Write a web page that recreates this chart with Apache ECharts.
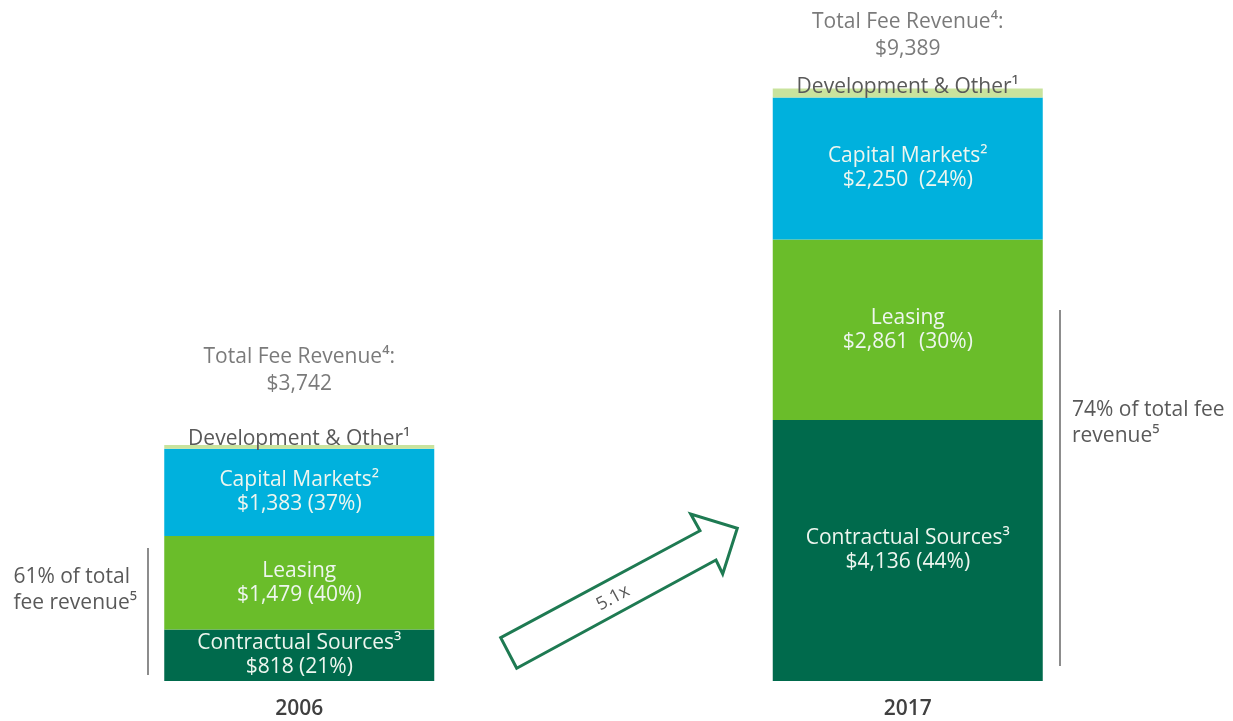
<!DOCTYPE html>
<html>
<head>
<meta charset="utf-8">
<script src="https://cdn.jsdelivr.net/npm/echarts@6/dist/echarts.min.js"></script>
<style>
  html, body { margin: 0; padding: 0; background: #fff; }
  #chart { width: 1233px; height: 721px; }
</style>
</head>
<body>
<div id="chart"></div>
<script>
// data ($ millions)
const years = ["2006", "2017"];
const contractual = [818, 4136];
const leasing = [1479, 2861];
const capitalMarkets = [1383, 2250];
const devOther = [62, 142];
const totals = [3742, 9389];
const contractualPct = [21, 44];
const leasingPct = [40, 30];
const capitalPct = [37, 24];

const FONT = "Open Sans";
const grey = "#595959";

const fmt = (v) => "$" + v.toLocaleString("en-US");

const chart = echarts.init(document.getElementById("chart"));

// gap between amount and percentage differs a bit between the two bars in the source slide
const insideLabel = (title, vals, pcts, seps) => ({
  show: true,
  position: "inside",
  color: "#eef6ef",
  fontFamily: FONT,
  fontSize: 21,
  lineHeight: 24,
  formatter: (p) => title + "\n" + fmt(vals[p.dataIndex]) + seps[p.dataIndex] + "(" + pcts[p.dataIndex] + "%)",
});

const option = {
  animation: false,
  grid: { left: -5, width: 1217, top: 50, bottom: 40, outerBoundsMode: "none" },
  xAxis: {
    type: "category",
    data: years,
    axisLine: { show: false },
    axisTick: { show: false },
    axisLabel: { margin: 18, color: "#404040", fontFamily: FONT, fontSize: 21, fontWeight: 600 },
  },
  yAxis: { type: "value", min: 0, max: 10000, show: false, splitLine: { show: false } },
  series: [
    {
      name: "Contractual Sources",
      type: "bar",
      stack: "fee",
      barWidth: 270,
      data: contractual,
      itemStyle: { color: "#006a4c" },
      label: insideLabel("Contractual Sources³", contractual, contractualPct, [" ", " "]),
    },
    {
      name: "Leasing",
      type: "bar",
      stack: "fee",
      data: leasing,
      itemStyle: { color: "#6abd2a" },
      label: insideLabel("Leasing", leasing, leasingPct, [" ", "  "]),
    },
    {
      name: "Capital Markets",
      type: "bar",
      stack: "fee",
      data: capitalMarkets,
      itemStyle: { color: "#00b1dd" },
      label: insideLabel("Capital Markets²", capitalMarkets, capitalPct, [" ", "  "]),
    },
    {
      name: "Development & Other",
      type: "bar",
      stack: "fee",
      data: devOther.map((v, i) => ({
        value: v,
        label: { distance: i === 0 ? -5 : -9 },
      })),
      itemStyle: { color: "#c9e39d" },
      label: {
        show: true,
        position: "top",
        color: grey,
        fontFamily: FONT,
        fontSize: 21,
        formatter: "Development & Other¹",
      },
      z: 3,
    },
    {
      name: "Total",
      type: "scatter",
      symbolSize: 0,
      data: totals.map((v, i) => ({
        value: v,
        label: { distance: i === 0 ? 47 : 26 },
      })),
      label: {
        show: true,
        position: "top",
        color: grey,
        fontFamily: FONT,
        fontSize: 21,
        lineHeight: 27,
        formatter: (p) => "Total Fee Revenue⁴:\n" + fmt(totals[p.dataIndex]),
      },
    },
  ],
  graphic: [
    // bracket lines beside the bars
    { type: "line", shape: { x1: 148, y1: 548, x2: 148, y2: 675 }, style: { stroke: "#404040", lineWidth: 1.2 } },
    { type: "line", shape: { x1: 1060, y1: 310, x2: 1060, y2: 666 }, style: { stroke: "#404040", lineWidth: 1.2 } },
    {
      type: "text", right: 1233 - 137, top: 564,
      style: { text: "61% of total\nfee revenue⁵", fill: grey, font: "21px " + FONT, lineHeight: 26, align: "right" },
    },
    {
      type: "text", left: 1072, top: 397,
      style: { text: "74% of total fee\nrevenue⁵", fill: grey, font: "21px " + FONT, lineHeight: 26 },
    },
    // growth arrow
    {
      type: "polygon",
      shape: {
        points: [
          [516.7, 668.3], [500.7, 637.7], [700, 530.7], [690.7, 514],
          [737.3, 528.3], [722.7, 574], [716, 560],
        ],
      },
      style: { fill: "#fff", stroke: "#1e7a52", lineWidth: 3, lineJoin: "miter" },
    },
    {
      type: "text", x: 613, y: 598, rotation: (28.5 * Math.PI) / 180,
      style: { text: "5.1x", fill: grey, font: "18px " + FONT, align: "center", verticalAlign: "middle" },
    },
  ],
};

chart.setOption(option);
</script>
</body>
</html>
